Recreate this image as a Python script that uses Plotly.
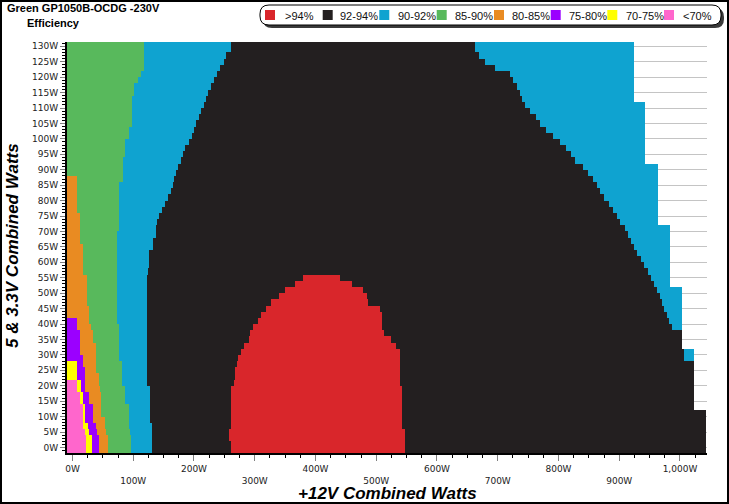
import plotly.graph_objects as go

# ---------------- data ----------------
# rows of the 5 & 3.3V load grid (W), bottom to top, each row 2 W tall
ROWS = [-1, 1, 3, 5, 7, 9, 11, 13, 15, 17, 19, 21, 23, 25, 27, 29, 31, 33, 35, 37,
        39, 41, 43, 45, 47, 49, 51, 53, 55, 57, 59, 61, 63, 65, 67, 69, 71, 73, 75, 77,
        79, 81, 83, 85, 87, 89, 91, 93, 95, 97, 99, 101, 103, 105, 107, 109, 111, 113,
        115, 117, 119, 121, 123, 125, 127, 129, 131]

GRID_START = -9  # +12V load where the measured grid starts (W)

# right end of measured area (+12V W) per row
OUTER_EDGE = [1043, 1043, 1043, 1043, 1043, 1043, 1043,
              1023, 1023, 1023, 1023, 1023, 1023, 1023, 1023, 1023, 1023,
              1003, 1003, 1003, 1003, 1003, 1003, 1003, 1003, 1003, 1003,
              983, 983, 983, 983, 983, 983, 983, 983, 983, 983,
              964, 964, 964, 964, 964, 964, 964, 964, 964, 964,
              943, 943, 943, 943, 943, 943, 943, 943, 943, 943,
              924, 924, 924, 924, 924, 924, 924, 924, 924, 924]

# 92-94% zone: start and end per row
BLACK_START = [131, 131, 131, 131, 131, 127, 127, 127, 127, 127, 127,
               122, 122, 122, 122, 122, 122, 122, 122, 122, 122, 122, 122, 122, 122, 122, 122, 122, 122,
               124, 126, 126, 126,
               132, 133, 137, 138, 139, 142, 147, 152, 157, 162,
               165, 167, 171, 174, 178, 182, 186, 191, 196, 200,
               204, 208, 212, 216, 219, 223, 228, 233, 238, 243,
               249, 253, 261, 261]
BLACK_END = [1043, 1043, 1043, 1043, 1043, 1043, 1043,
             1023, 1023, 1023, 1023, 1023, 1023, 1023, 1023,
             1006, 1006, 1003, 1003, 1003,
             987, 982, 978, 974, 971, 967, 963, 957, 952, 947,
             941, 936, 930, 924, 919, 915, 909, 901, 896, 889,
             883, 875, 868, 864, 857, 849, 841, 827, 820, 813,
             802, 791, 780, 769, 763, 753, 745, 740, 737, 732,
             725, 720, 695, 679, 669, 662, 662]

# >94% zone (rows -1 .. 55)
RED_START = [261, 261, 257, 257, 261, 261, 261, 261, 261, 261, 261,
             266, 267, 268, 271, 272, 278, 282, 290, 292, 297, 305, 311, 318, 327, 340, 350, 366, 380]
RED_END = [548, 548, 548, 548, 542, 542, 542, 542, 542, 542, 542,
           539, 539, 539, 539, 539, 539, 533, 525, 513, 510, 510, 510, 507, 486, 484, 478, 460, 440]

# left-hand zones: right end per row (zones start at the grid start)
GREEN_END = [97, 97, 97, 95, 93, 93, 93, 93, 87, 87, 87, 82, 82, 82, 82,
             77, 77, 77, 77, 77, 77,
             73, 73, 73, 73, 73, 73, 73, 73, 73, 73, 73, 73, 73, 73, 73,
             77, 77, 77, 77, 77, 77, 77, 77,
             83, 83, 83, 83, 87, 87, 87, 93, 93,
             98, 98, 98, 98, 98, 102, 102, 108, 113,
             117, 117, 117, 117, 117]
ORANGE_END = [58, 58, 58, 55, 53, 53, 47, 47, 47, 47, 45, 43, 43,
              39, 39, 39, 39, 39, 33, 33, 30, 28, 28, 28,
              24, 24, 24, 24, 24, 17, 17, 17, 17, 17,
              13, 13, 13, 13, 13, 7, 7, 7, 7, 7, 7]          # rows -1 .. 87
PURPLE_END = [43, 43, 43, 40, 38, 33, 33, 33, 27, 27, 21, 21, 21, 20,
              17, 17, 13, 13, 13, 13, 7, 7]                    # rows -1 .. 41
YELLOW_END = [32, 32, 32, 28, 25, 21, 21, 21, 18, 18, 14, 14, 7, 7, 7]  # rows -1 .. 27
PINK_END = [23, 23, 23, 20, 17, 17, 17, 17, 13, 13, 7, 7]              # rows -1 .. 21

LEGEND_LABELS = [">94%", "92-94%", "90-92%", "85-90%", "80-85%", "75-80%", "70-75%", "<70%"]
COLORS = {">94%": "#d9262b", "92-94%": "#231f20", "90-92%": "#0fa3d0", "85-90%": "#58b95c",
          "80-85%": "#e98b22", "75-80%": "#9b00ff", "70-75%": "#ffff00", "<70%": "#ff66cc"}

X_TICKS = [0, 100, 200, 300, 400, 500, 600, 700, 800, 900, 1000]
X_TICK_TEXT = ["0W", "<br>100W", "200W", "<br>300W", "400W", "<br>500W", "600W",
               "<br>700W", "800W", "<br>900W", "1,000W"]
Y_TICKS = [0, 5, 10, 15, 20, 25, 30, 35, 40, 45, 50, 55, 60, 65, 70, 75, 80, 85, 90,
           95, 100, 105, 110, 115, 120, 125, 130]
Y_TICK_TEXT = [f"{v}W" for v in Y_TICKS]

# ---------------- geometry ----------------
W, H = 729, 504
ML, MR, MT, MB = 67, 22, 42, 51
PW, PH = W - ML - MR, H - MT - MB


def paper(x, y):
    return (x - ML) / PW, (H - MB - y) / PH


fig = go.Figure()


def band(name, rows, start, end):
    fig.add_trace(go.Bar(
        orientation="h", y=rows, base=start,
        x=[e - s for s, e in zip(start, end)],
        width=2, marker=dict(color=COLORS[name], line=dict(width=0)),
        name=name, showlegend=False, hoverinfo="skip"))


n = len(ROWS)
band("90-92%", ROWS, [GRID_START] * n, OUTER_EDGE)
band("92-94%", ROWS, BLACK_START, BLACK_END)
band(">94%", ROWS[:len(RED_START)], RED_START, RED_END)
band("85-90%", ROWS, [GRID_START] * n, GREEN_END)
band("80-85%", ROWS[:len(ORANGE_END)], [GRID_START] * len(ORANGE_END), ORANGE_END)
band("75-80%", ROWS[:len(PURPLE_END)], [GRID_START] * len(PURPLE_END), PURPLE_END)
band("70-75%", ROWS[:len(YELLOW_END)], [GRID_START] * len(YELLOW_END), YELLOW_END)
band("<70%", ROWS[:len(PINK_END)], [GRID_START] * len(PINK_END), PINK_END)

tickfont = dict(family="DejaVu Sans", size=9, color="#222222")

fig.update_layout(
    width=W, height=H, margin=dict(l=ML, r=MR, t=MT, b=MB),
    paper_bgcolor="white", plot_bgcolor="white", barmode="overlay", bargap=0,
    xaxis=dict(range=[GRID_START, 1044.5], tickmode="array", tickvals=X_TICKS, ticktext=X_TICK_TEXT,
               ticks="outside", ticklen=6, tickcolor="#808080", tickwidth=1,
               showline=True, linecolor="black", linewidth=2, showgrid=False, zeroline=False,
               tickfont=tickfont, automargin=False,
               minor=dict(tickmode="linear", tick0=0, dtick=25, ticks="outside", ticklen=3,
                          tickcolor="black", showgrid=False)),
    yaxis=dict(range=[-1.8, 131.4], tickmode="array", tickvals=Y_TICKS, ticktext=Y_TICK_TEXT,
               ticks="outside", ticklen=5, tickcolor="#808080", tickwidth=1,
               showline=True, linecolor="black", linewidth=2, showgrid=True,
               gridcolor="#c4c4c4", gridwidth=1, zeroline=False, tickfont=tickfont, automargin=False,
               minor=dict(tickmode="linear", tick0=0, dtick=1, ticks="outside", ticklen=3,
                          tickcolor="black", showgrid=False)),
)

shapes = []
# outer frame
x0, y0 = paper(1, 1)
x1, y1 = paper(728, 503)
shapes.append(dict(type="rect", xref="paper", yref="paper", x0=x0, y0=y0, x1=x1, y1=y1,
                   line=dict(color="black", width=2)))


def rounded(xa, ya, xb, yb, r):
    def p(x, y):
        px, py = paper(x, y)
        return f"{px:.5f},{py:.5f}"
    return (f"M {p(xa + r, ya)} L {p(xb - r, ya)} Q {p(xb, ya)} {p(xb, ya + r)} "
            f"L {p(xb, yb - r)} Q {p(xb, yb)} {p(xb - r, yb)} L {p(xa + r, yb)} "
            f"Q {p(xa, yb)} {p(xa, yb - r)} L {p(xa, ya + r)} Q {p(xa, ya)} {p(xa + r, ya)} Z")


shapes.append(dict(type="path", xref="paper", yref="paper", path=rounded(263, 8, 724, 28, 9),
                   fillcolor="#3a3a3a", line=dict(width=0)))
shapes.append(dict(type="path", xref="paper", yref="paper", path=rounded(260, 5, 721, 25, 9),
                   fillcolor="white", line=dict(color="black", width=1)))

SQ_X = [265, 322.7, 379.3, 436.7, 494, 550.7, 607.3, 664]
TX_X = [283, 338, 396, 453, 510, 567, 624, 681]
annotations = []
for lab, sx, tx in zip(LEGEND_LABELS, SQ_X, TX_X):
    a0, b0 = paper(sx, 10)
    a1, b1 = paper(sx + 10, 20)
    shapes.append(dict(type="rect", xref="paper", yref="paper", x0=a0, y0=b0, x1=a1, y1=b1,
                       fillcolor=COLORS[lab], line=dict(width=0)))
    ax, ay = paper(tx, 15.5)
    annotations.append(dict(xref="paper", yref="paper", x=ax, y=ay, xanchor="left", yanchor="middle",
                            text=lab, showarrow=False,
                            font=dict(family="Liberation Sans, Arial", size=11, color="#111111")))

ax, ay = paper(5, 8)
annotations.append(dict(xref="paper", yref="paper", x=ax, y=ay, xanchor="left", yanchor="middle",
                        text="<b>Green GP1050B-OCDG -230V</b>", showarrow=False,
                        font=dict(family="Liberation Sans, Arial", size=11, color="black")))
ax, ay = paper(25, 23)
annotations.append(dict(xref="paper", yref="paper", x=ax, y=ay, xanchor="left", yanchor="middle",
                        text="<b>Efficiency</b>", showarrow=False,
                        font=dict(family="Liberation Sans, Arial", size=11, color="black")))
ax, ay = paper(387, 493)
annotations.append(dict(xref="paper", yref="paper", x=ax, y=ay, xanchor="center", yanchor="middle",
                        text="<b><i>+12V Combined Watts</i></b>", showarrow=False,
                        font=dict(family="Liberation Sans, Arial", size=17, color="black")))
ax, ay = paper(13, 246)
annotations.append(dict(xref="paper", yref="paper", x=ax, y=ay, xanchor="center", yanchor="middle",
                        text="<b><i>5 &amp; 3.3V Combined Watts</i></b>", showarrow=False, textangle=-90,
                        font=dict(family="Liberation Sans, Arial", size=17, color="black")))

fig.update_layout(shapes=shapes, annotations=annotations)
fig.write_html("out.html", config={"displayModeBar": False},
               post_script="document.body.style.margin='0px'; document.body.style.overflow='hidden';")
